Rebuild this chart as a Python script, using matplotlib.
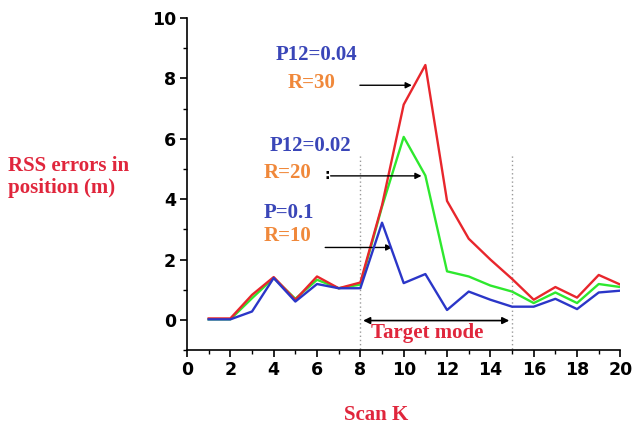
import matplotlib
matplotlib.use("Agg")
import matplotlib.pyplot as plt
from matplotlib.ticker import MultipleLocator

scan_k = list(range(1, 21))
red_r30 = [0.05, 0.05, 0.83, 1.42, 0.67, 1.44, 1.05, 1.24, 3.8, 7.13, 8.44, 3.94, 2.69, 2.0, 1.36, 0.67, 1.09, 0.74, 1.49, 1.17]
green_r20 = [0.02, 0.02, 0.72, 1.39, 0.70, 1.33, 1.05, 1.17, 3.75, 6.06, 4.78, 1.61, 1.44, 1.14, 0.94, 0.56, 0.91, 0.56, 1.19, 1.09]
blue_r10 = [0.02, 0.02, 0.28, 1.39, 0.61, 1.19, 1.05, 1.05, 3.22, 1.22, 1.52, 0.33, 0.94, 0.67, 0.44, 0.44, 0.70, 0.36, 0.91, 0.97]
x_ticks = [0, 2, 4, 6, 8, 10, 12, 14, 16, 18, 20]
y_ticks = [0, 2, 4, 6, 8, 10]

RED = "#e8262c"
GREEN = "#2ee82e"
BLUE = "#2b36c8"
TXT_BLUE = "#3a46b8"
TXT_ORANGE = "#f0883a"
TXT_RED = "#e0263c"
SERIF = ["Liberation Serif", "DejaVu Serif"]
FS = 15

fig = plt.figure(figsize=(6.35, 4.26), dpi=100)
ax = fig.add_axes([0.2945, 0.178, 0.6825, 0.78])

ax.plot(scan_k, red_r30, color=RED, lw=1.7, zorder=3)
ax.plot(scan_k, green_r20, color=GREEN, lw=1.7, zorder=2)
ax.plot(scan_k, blue_r10, color=BLUE, lw=1.7, zorder=4)

ax.set_xlim(0, 20)
ax.set_ylim(-1, 10)
ax.set_xticks(x_ticks)
ax.set_yticks(y_ticks)
ax.xaxis.set_minor_locator(MultipleLocator(1))
ax.yaxis.set_minor_locator(MultipleLocator(1))
for s in ("top", "right"):
    ax.spines[s].set_visible(False)
for s in ("left", "bottom"):
    ax.spines[s].set_linewidth(1.2)
ax.tick_params(which="major", length=5, width=1.2, labelsize=12.5, pad=3)
ax.tick_params(which="minor", length=3, width=1.0)
for lab in ax.get_xticklabels() + ax.get_yticklabels():
    lab.set_fontweight("bold")
    lab.set_family(["DejaVu Sans"])

# dotted vertical guides
ax.plot([8, 8], [-0.95, 5.5], ls=(0, (1, 2)), color="#999999", lw=1.0)
ax.plot([15, 15], [-0.95, 5.5], ls=(0, (1, 2)), color="#999999", lw=1.0)

# target mode arrow
ax.annotate("", xy=(8.0, -0.02), xytext=(15.0, -0.02),
            arrowprops=dict(arrowstyle="<|-|>", color="black", lw=1.2, mutation_scale=10))
ax.text(11.1, -0.42, "Target mode", color=TXT_RED, fontsize=FS, fontweight="bold",
        family=SERIF, ha="center", va="center")

# series labels
ax.text(5.98, 8.77, "P12=0.04", color=TXT_BLUE, fontsize=FS, fontweight="bold", family=SERIF, ha="center", va="center")
ax.text(5.73, 7.83, "R=30", color=TXT_ORANGE, fontsize=FS, fontweight="bold", family=SERIF, ha="center", va="center")
ax.annotate("", xy=(10.5, 7.77), xytext=(7.85, 7.77),
            arrowprops=dict(arrowstyle="-|>", color="black", lw=1.0, mutation_scale=9))

ax.text(5.71, 5.77, "P12=0.02", color=TXT_BLUE, fontsize=FS, fontweight="bold", family=SERIF, ha="center", va="center")
ax.text(4.66, 4.87, "R=20", color=TXT_ORANGE, fontsize=FS, fontweight="bold", family=SERIF, ha="center", va="center")
ax.text(6.45, 4.8, ":", color="black", fontsize=10, fontweight="bold", ha="center", va="center")
ax.annotate("", xy=(10.95, 4.77), xytext=(6.5, 4.77),
            arrowprops=dict(arrowstyle="-|>", color="black", lw=1.0, mutation_scale=9))

ax.text(4.7, 3.53, "P=0.1", color=TXT_BLUE, fontsize=FS, fontweight="bold", family=SERIF, ha="center", va="center")
ax.text(4.66, 2.77, "R=10", color=TXT_ORANGE, fontsize=FS, fontweight="bold", family=SERIF, ha="center", va="center")
ax.annotate("", xy=(9.6, 2.4), xytext=(6.25, 2.4),
            arrowprops=dict(arrowstyle="-|>", color="black", lw=1.0, mutation_scale=9))

fig.text(0.0126, 0.585, "RSS errors in\nposition (m)", color=TXT_RED, fontsize=FS,
         fontweight="bold", family=SERIF, ha="left", va="center", linespacing=1.1)
fig.text(0.592, 0.026, "Scan K", color=TXT_RED, fontsize=FS, fontweight="bold",
         family=SERIF, ha="center", va="center")

fig.savefig("out.png", dpi=100)
